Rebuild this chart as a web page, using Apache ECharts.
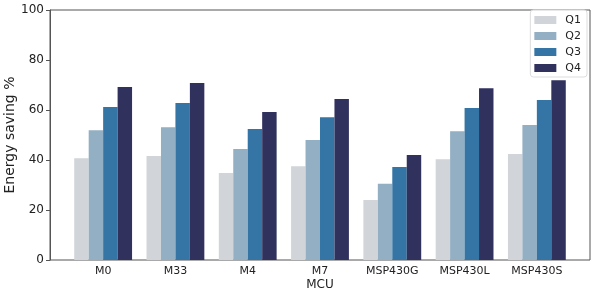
<!DOCTYPE html>
<html><head><meta charset="utf-8">
<script src="https://cdn.jsdelivr.net/npm/echarts@6/dist/echarts.min.js"></script>
<style>html,body{margin:0;padding:0;background:#fff}#c{width:595px;height:295px}</style>
</head><body><div id="c"></div>
<script>
const categories = ['M0','M33','M4','M7','MSP430G','MSP430L','MSP430S'];
const seriesNames = ['Q1','Q2','Q3','Q4'];
const q1 = [40.7, 41.6, 34.8, 37.5, 24.0, 40.3, 42.4];
const q2 = [51.9, 53.1, 44.4, 48.0, 30.5, 51.5, 54.0];
const q3 = [61.2, 62.8, 52.4, 57.1, 37.2, 60.8, 64.0];
const q4 = [69.2, 70.8, 59.2, 64.4, 42.0, 68.7, 71.9];
const yTicks = [0, 20, 40, 60, 80, 100];
const colors = ['#d1d5d9', '#93afc3', '#3575a5', '#31315e'];
const values = [q1, q2, q3, q4];

const yMin = yTicks[0], yMax = yTicks[yTicks.length - 1];
const chart = echarts.init(document.getElementById('c'), null, {renderer: 'canvas'});
chart.setOption({
  animation: false,
  textStyle: {fontFamily: 'DejaVu Sans'},
  grid: [
    {left: 50, right: 5, top: 10, bottom: 35, show: true, borderColor: '#555', borderWidth: 1,
     backgroundColor: 'transparent', containLabel: false, outerBoundsMode: 'none'},
    {left: 67, right: 22, top: 10, bottom: 35, show: false, containLabel: false, outerBoundsMode: 'none'}
  ],
  legend: {
    right: 8, top: 10, orient: 'vertical', itemWidth: 22, itemHeight: 8, itemGap: 4, z: 10, zlevel: 1,
    padding: [4, 6, 3, 4], borderColor: '#ddd', borderWidth: 1, borderRadius: 3,
    icon: 'rect', backgroundColor: 'rgba(255,255,255,0.85)',
    textStyle: {fontSize: 11, lineHeight: 12, color: '#222', fontFamily: 'DejaVu Sans', padding: [0, 0, 0, 4]},
    data: seriesNames
  },
  xAxis: [
    {gridIndex: 0, type: 'category', data: categories, show: false},
    {
      gridIndex: 1, type: 'category', data: categories, name: 'MCU', nameLocation: 'middle', nameGap: 19,
      nameMoveOverlap: false,
      nameTextStyle: {fontSize: 12, color: '#222'},
      axisLine: {show: false},
      axisTick: {alignWithLabel: true, length: 4, lineStyle: {color: '#555'}},
      axisLabel: {fontSize: 11, color: '#222', margin: 6}
    }
  ],
  yAxis: [
    {
      gridIndex: 0, type: 'value', min: yMin, max: yMax, interval: 20,
      name: 'Energy saving %', nameLocation: 'middle', nameGap: 33, nameMoveOverlap: false,
      nameTextStyle: {fontSize: 14, color: '#222'},
      axisLine: {show: true, lineStyle: {color: '#555'}},
      axisTick: {show: true, length: 4, lineStyle: {color: '#555'}},
      axisLabel: {fontSize: 12, color: '#222', margin: 6},
      splitLine: {show: false}
    },
    {gridIndex: 1, type: 'value', min: yMin, max: yMax, interval: 20, show: false, splitLine: {show: false}}
  ],
  series: seriesNames.map((n, i) => ({
    name: n, type: 'bar', xAxisIndex: 1, yAxisIndex: 1, data: values[i], barGap: '0%', barCategoryGap: '20%',
    itemStyle: {color: colors[i]}
  }))
});
</script></body></html>
